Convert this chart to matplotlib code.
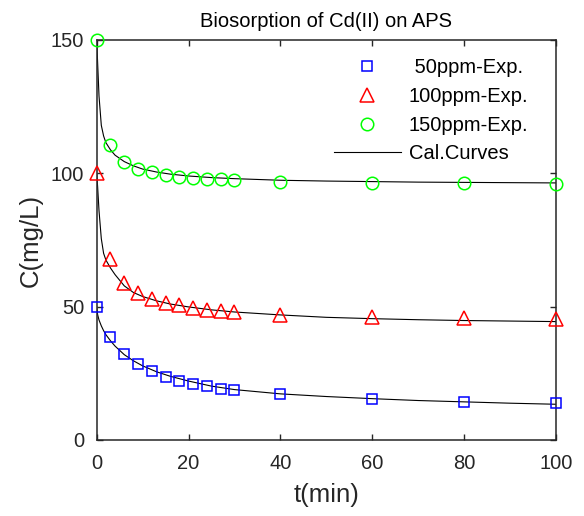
import matplotlib
matplotlib.use("Agg")
import matplotlib.pyplot as plt
import numpy as np

plt.rcParams['font.family'] = ['Liberation Sans', 'DejaVu Sans']

# experimental data
t_exp = [0, 3, 6, 9, 12, 15, 18, 21, 24, 27, 30, 40, 60, 80, 100]
c50 = [50, 38.5, 32.3, 28.5, 25.8, 23.8, 22.2, 21.1, 20.2, 19.3, 18.6, 17.1, 15.3, 14.3, 13.8]
c100 = [100, 67.7, 58.7, 55.1, 52.9, 51.4, 50.5, 49.5, 48.9, 48.5, 48.0, 47.0, 46.1, 45.8, 45.3]
c150 = [150, 110.6, 104.1, 101.6, 100.4, 99.4, 98.8, 98.1, 97.9, 97.8, 97.5, 96.9, 96.5, 96.3, 96.1]

# calculated curves
t_cal = [0, 0.2, 0.5, 1, 1.5, 2, 3, 4, 6, 8, 10, 13, 16, 20, 25, 30, 40, 50, 60, 70, 80, 90, 100]
cal50 = [50, 47, 45, 42.8, 41, 39.5, 37.2, 35.2, 32, 29.7, 27.8, 25.6, 23.9, 22.1, 20.2, 18.9,
         17.3, 16.3, 15.5, 14.8, 14.3, 13.8, 13.4]
cal100 = [100, 95, 86, 75.5, 70, 67.5, 64.5, 62, 57.8, 55.3, 53.8, 52.2, 51.0, 49.9, 48.8, 48.0,
          46.9, 46.0, 45.5, 45.1, 44.8, 44.6, 44.4]
cal150 = [150, 141.5, 129, 118, 114, 111.5, 108.8, 106.8, 104.4, 102.8, 101.6, 100.5, 99.7, 99.0,
          98.4, 98.0, 97.4, 97.1, 96.9, 96.7, 96.6, 96.5, 96.4]

fig = plt.figure(figsize=(5.84, 5.16), dpi=100)
ax = fig.add_axes([0.1656, 0.1473, 0.7864, 0.7752])

ax.plot(t_exp, c50, 's', mfc='none', mec=(0, 0, 1), ms=7.5, mew=1.1, label=' 50ppm-Exp.', clip_on=False, zorder=3)
ax.plot(t_exp, c100, '^', mfc='none', mec=(1, 0, 0), ms=10, mew=1.1, label='100ppm-Exp.', clip_on=False, zorder=3)
ax.plot(t_exp, c150, 'o', mfc='none', mec=(0, 1, 0), ms=9, mew=1.1, label='150ppm-Exp.', clip_on=False, zorder=3)
ax.plot(t_cal, cal50, '-', color='k', lw=0.8, label='Cal.Curves')
ax.plot(t_cal, cal100, '-', color='k', lw=0.8)
ax.plot(t_cal, cal150, '-', color='k', lw=0.8)

ax.set_xlim(0, 100)
ax.set_ylim(0, 150)
ax.set_xticks([0, 20, 40, 60, 80, 100])
ax.set_yticks([0, 50, 100, 150])
ax.tick_params(direction='in', length=4.3, width=1.0, top=True, right=True,
               labelsize=14.5, colors='#262626')
ax.tick_params(axis='x', pad=10)
ax.tick_params(axis='y', pad=9)
for s in ax.spines.values():
    s.set_linewidth(1.1)
    s.set_color('#262626')

ax.set_xlabel('t(min)', fontsize=18.5, color='#262626', labelpad=7)
ax.set_ylabel('C(mg/L)', fontsize=18.5, color='#262626', labelpad=6)
ax.set_title('Biosorption of Cd(II) on APS', fontsize=14.5, color='#000000', pad=9)

ax.legend(loc='upper left', bbox_to_anchor=(0.517, 0.954), frameon=False, fontsize=14.5,
          handlelength=3.3, handletextpad=0.4, labelspacing=0.48, borderpad=0, borderaxespad=0)

fig.savefig('out.png', dpi=100)
